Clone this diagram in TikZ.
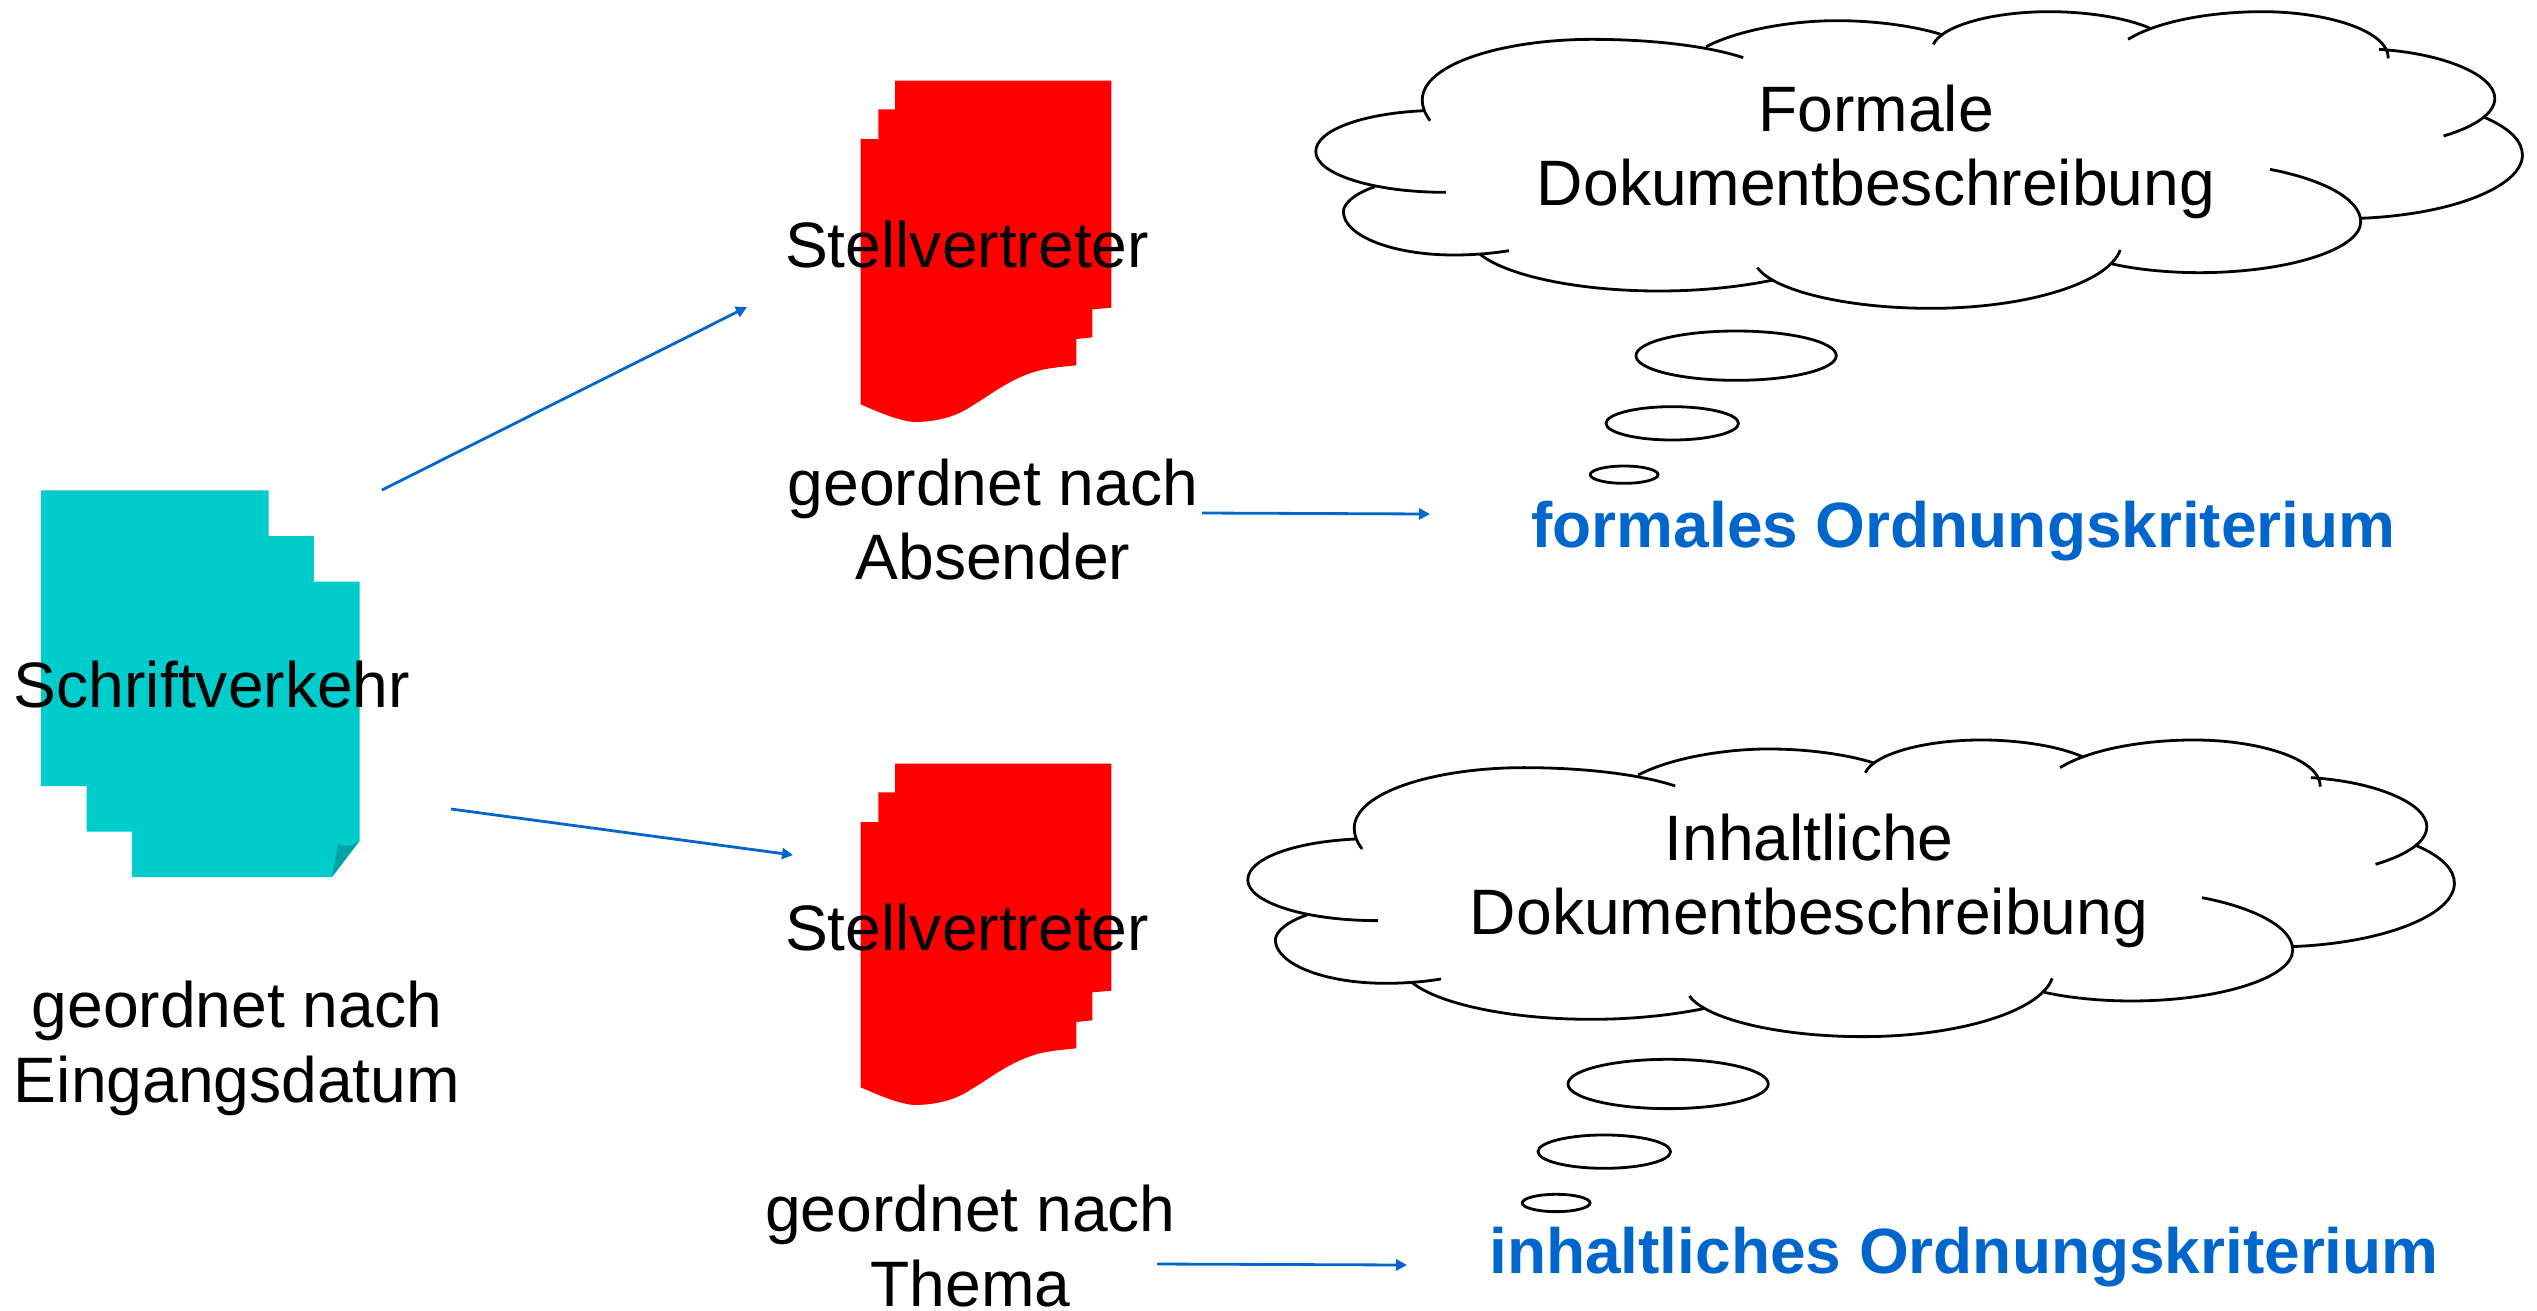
\documentclass[tikz,border=0pt]{standalone}
\usepackage{fontspec}
\setmainfont{Liberation Sans}
\usetikzlibrary{arrows.meta}
\definecolor{tealdoc}{HTML}{00CCCC}
\definecolor{tealfold}{HTML}{00A3A3}
\definecolor{bluelink}{HTML}{0066CC}
\tikzset{
 x=1pt,y=-1pt,
 lbl/.style={inner sep=0pt,outer sep=0pt,align=center,font=\fontsize{64.2}{74.4}\selectfont,anchor=base},
 krit/.style={lbl,text=bluelink,font=\fontsize{64}{74.4}\selectfont\bfseries},
 conn/.style={draw=bluelink,line width=2.8pt,-{Triangle[length=11pt,width=11pt]}},
 cloudline/.style={draw=black,line width=2.8pt},
 bubble/.style={draw=black,line width=2.8pt},
}
\newcommand{\cloudshape}[1]{%
 \begin{scope}[shift={#1},xscale=0.78864,yscale=0.33333]
  \draw[cloudline] (165,362) .. controls (158,340) and (155,320) .. (155,300) .. controls (155,190) and (260,118) .. (370,118) .. controls (450,118) and (520,140) .. (562,173);
  \draw[cloudline] (515,140) .. controls (560,85) and (630,62) .. (680,62) .. controls (740,62) and (790,85) .. (815,105);
  \draw[cloudline] (803,133) .. controls (815,75) and (880,35) .. (950,35) .. controls (1000,35) and (1050,55) .. (1078,85);
  \draw[cloudline] (1050,118) .. controls (1090,60) and (1160,35) .. (1220,35) .. controls (1300,35) and (1380,90) .. (1380,175);
  \draw[cloudline] (1368,148) .. controls (1450,160) and (1515,225) .. (1515,295) .. controls (1515,340) and (1490,380) .. (1450,408);
  \draw[cloudline] (1500,350) .. controls (1535,385) and (1550,425) .. (1550,465) .. controls (1550,560) and (1460,645) .. (1343,655);
  \draw[cloudline] (1230,508) .. controls (1300,540) and (1345,600) .. (1345,665) .. controls (1345,750) and (1250,818) .. (1140,818) .. controls (1100,818) and (1060,808) .. (1030,792);
  \draw[cloudline] (1040,750) .. controls (1025,850) and (920,925) .. (800,925) .. controls (690,925) and (600,870) .. (580,803);
  \draw[cloudline] (600,840) .. controls (555,862) and (505,873) .. (455,873) .. controls (350,873) and (260,825) .. (228,762);
  \draw[cloudline] (265,752) .. controls (245,760) and (220,765) .. (195,765) .. controls (115,765) and (55,705) .. (55,635) .. controls (55,610) and (70,580) .. (95,560);
  \draw[cloudline] (185,577) .. controls (90,577) and (20,520) .. (20,455) .. controls (20,390) and (80,340) .. (158,332);
  \draw[bubble] (553,1067) ellipse [x radius=127,y radius=74];
  \draw[bubble] (472,1270) ellipse [x radius=84,y radius=50];
  \draw[bubble] (411,1424) ellipse [x radius=43,y radius=26];
 \end{scope}}
\newcommand{\reddoc}[1]{%
 \begin{scope}[shift={#1},scale=0.33333]
  \fill[red] (345,122) -- (994,122) -- (994,803) -- (937,808) -- (937,892) -- (889,897) -- (889,976)
   .. controls (830,982) and (790,985) .. (750,1000) .. controls (680,1025) and (630,1065) .. (580,1095)
   .. controls (530,1130) and (470,1146) .. (400,1146) .. controls (350,1140) and (300,1118) .. (242,1093)
   -- (242,297) -- (295,297) -- (295,208) -- (345,208) -- cycle;
 \end{scope}}
\begin{document}
\begin{tikzpicture}
\useasboundingbox (0,0) rectangle (2537,1310);
% teal stack
\begin{scope}[shift={(0,460)},scale=0.33333]
 \fill[tealdoc] (123,91) -- (806,91) -- (806,228) -- (942,228) -- (942,365) -- (1079,365) -- (1079,1142) -- (996,1251) -- (396,1251) -- (396,1115) -- (260,1115) -- (260,978) -- (123,978) -- cycle;
 \fill[tealfold] (996,1251) -- (1079,1142) .. controls (1055,1160) and (1030,1165) .. (1015,1148) -- cycle;
\end{scope}
\reddoc{(780,40)}
\reddoc{(780,723)}
\cloudshape{(1300,0)}
\cloudshape{(1232,728.3)}
\node[lbl] (schrift) at (212,707.5) {Schriftverkehr};
\node[lbl] (eingang) at (237,1102) {geordnet nach\\Eingangsdatum};
\node[lbl] (stell1) at (967,267.5) {Stellvertreter};
\node[lbl] (stell2) at (967,950.5) {Stellvertreter};
\node[lbl] (abs) at (993,579.4) {geordnet nach\\Absender};
\node[lbl] (thema) at (970.5,1306) {geordnet nach\\Thema};
\node[lbl] (formal) at (1876,205.5) {Formale\\Dokumentbeschreibung};
\node[lbl] (inhalt) at (1809,934.5) {Inhaltliche\\Dokumentbeschreibung};
\node[krit] (kritF) at (1963.5,547) {formales Ordnungskriterium};
\node[krit] (kritI) at (1964,1273) {inhaltliches Ordnungskriterium};
\coordinate (a1s) at (382,490); \coordinate (a1e) at (747,307);
\coordinate (a2s) at (451,809); \coordinate (a2e) at (793,855);
\coordinate (a3s) at (1202,513); \coordinate (a3e) at (1430,514);
\coordinate (a4s) at (1157,1264); \coordinate (a4e) at (1407,1265);
\draw[conn] (a1s) -- (a1e);
\draw[conn] (a2s) -- (a2e);
\draw[conn] (a3s) -- (a3e);
\draw[conn] (a4s) -- (a4e);
\end{tikzpicture}
\end{document}
